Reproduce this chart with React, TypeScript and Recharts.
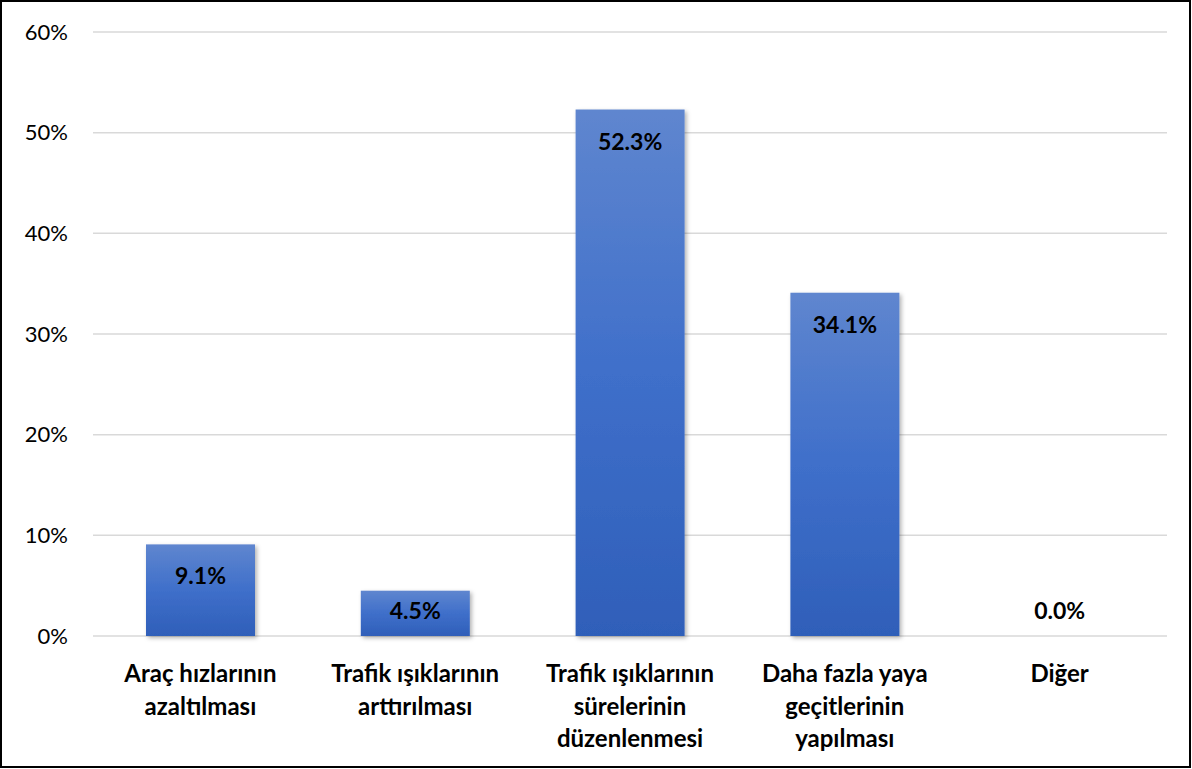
import { BarChart, Bar, XAxis, YAxis, CartesianGrid } from 'recharts'

const categories = [
  'Araç hızlarının\nazaltılması',
  'Trafik ışıklarının\narttırılması',
  'Trafik ışıklarının\nsürelerinin\ndüzenlenmesi',
  'Daha fazla yaya\ngeçitlerinin\nyapılması',
  'Diğer',
]
const shares = [9.1, 4.5, 52.3, 34.1, 0.0]
const yTicks = [0, 10, 20, 30, 40, 50, 60]

const data = categories.map((name, i) => ({ name, value: shares[i] }))

const FONT = 'Lato, "Open Sans", sans-serif'

function CategoryTick(props: any) {
  const { x, y, payload } = props
  const lines = String(payload.value).split('\n')
  return (
    <text x={x} y={y} textAnchor="middle" fontFamily={FONT} fontWeight={700} fontSize={24} fill="#000">
      {lines.map((line, i) => (
        <tspan key={i} x={x} dy={i === 0 ? 44 : 32.5}>
          {line}
        </tspan>
      ))}
    </text>
  )
}

function ValueLabel(props: any) {
  const { x, y, width, height, value } = props
  const v = Number(value)
  const top = Math.min(y, y + height)
  const bottom = Math.max(y, y + height)
  // inside the top of the bar, but never closer to the baseline than 26px
  const cy = Math.min(top + 31, bottom - 26)
  return (
    <text
      x={x + width / 2}
      y={cy}
      textAnchor="middle"
      dominantBaseline="central"
      fontFamily={FONT}
      fontWeight={700}
      fontSize={23}
      fill="#000"
    >
      {v.toFixed(1)}%
    </text>
  )
}

function BarShape(props: any) {
  const { x, y, width, height, payload } = props
  if (!payload || payload.value <= 0) return <g />
  return <rect x={x} y={y} width={width} height={height} fill="url(#barFill)" filter="url(#barShadow)" />
}

export default function App() {
  return (
    <div style={{ position: 'absolute', left: 0, top: 0, width: 1192, height: 769, background: '#fff' }}>
      <BarChart
        width={1192}
        height={769}
        data={data}
        margin={{ top: 32, right: 25, left: 0, bottom: 103 }}
      >
        <defs>
          <linearGradient id="barFill" x1="0" y1="0" x2="0" y2="1">
            <stop offset="0%" stopColor="#5F86CF" />
            <stop offset="50%" stopColor="#3F6FCA" />
            <stop offset="100%" stopColor="#2F5FB9" />
          </linearGradient>
          <filter id="barShadow" x="-10%" y="-10%" width="130%" height="130%">
            <feDropShadow dx="2" dy="2" stdDeviation="2" floodColor="#000" floodOpacity="0.3" />
          </filter>
        </defs>
        <CartesianGrid vertical={false} stroke="#D9D9D9" strokeWidth={1.5} />
        <XAxis
          dataKey="name"
          height={30}
          axisLine={false}
          tickLine={false}
          tickSize={0}
          interval={0}
          tick={<CategoryTick />}
        />
        <YAxis
          width={93}
          domain={[0, 60]}
          ticks={yTicks}
          axisLine={false}
          tickLine={false}
          tickSize={0}
          tickMargin={25}
          tickFormatter={(v: number) => `${v}%`}
          tick={{ fontFamily: FONT, fontSize: 22, fill: '#000' }}
        />
        <Bar
          dataKey="value"
          barSize={109}
          minPointSize={1}
          fill="url(#barFill)"
          shape={<BarShape />}
          isAnimationActive={false}
          label={<ValueLabel />}
        />
      </BarChart>
      <div
        style={{
          position: 'absolute',
          left: 0,
          top: 0,
          width: 1191,
          height: 768,
          border: '2px solid #000',
          boxSizing: 'border-box',
          pointerEvents: 'none',
        }}
      />
    </div>
  )
}
